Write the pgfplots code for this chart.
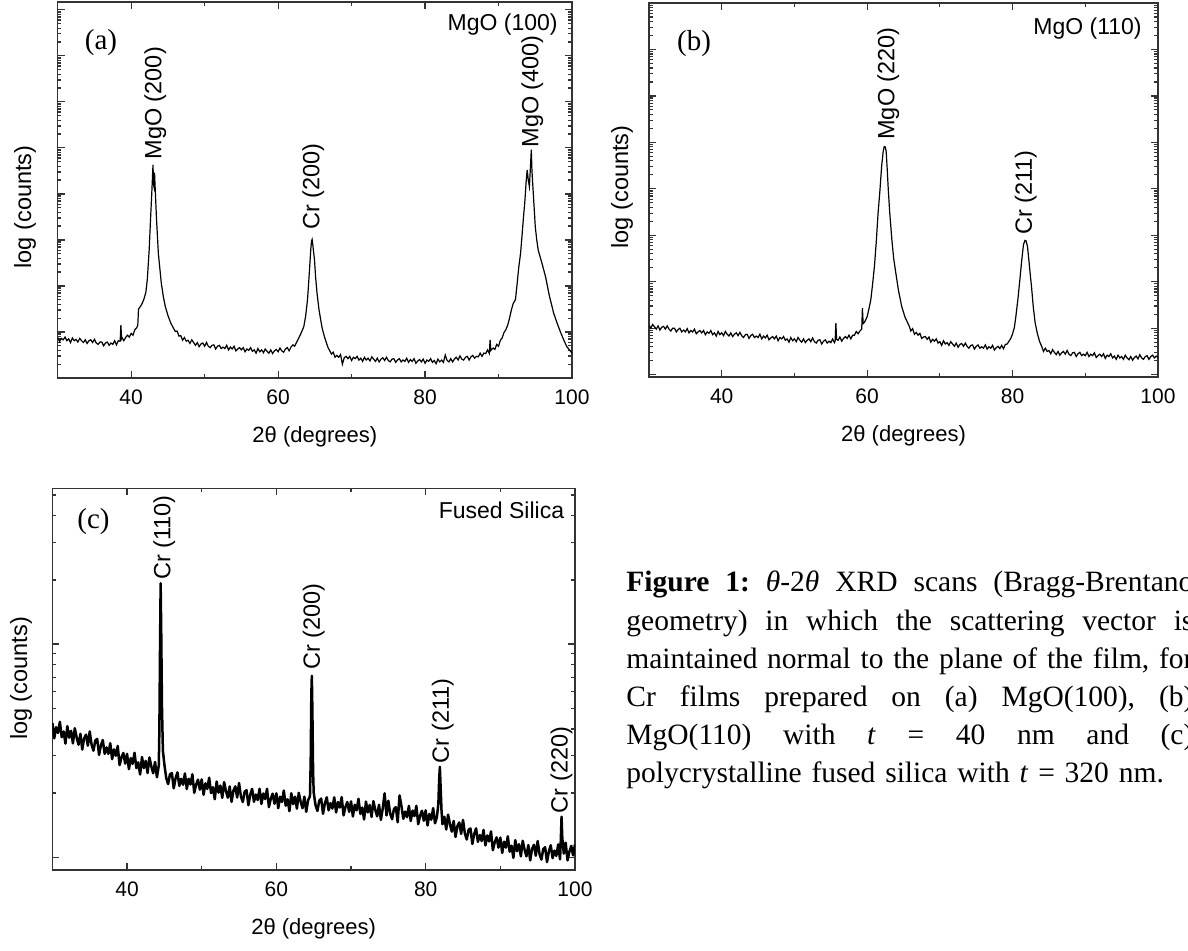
\documentclass[border=0pt]{standalone}
\usepackage{fontspec}
\setmainfont{Liberation Serif}
\setsansfont{Liberation Sans}
\usepackage{pgfplots}
\pgfplotsset{compat=1.18}

% y is log10 of counts; decades as major ticks, log minor ticks listed
\pgfplotsset{
  xrd/.style={
    scale only axis, anchor=south west,
    xmin=30, xmax=100,
    xtick={40,60,80,100}, minor xtick={50,70,90},
    yticklabels={},
    axis line style={black!80, line width=0.7pt},
    every tick/.style={black!80, line width=0.6pt},
    major tick length=3.5pt, minor tick length=1.8pt,
    /pgf/number format/assume math mode=true,
    xticklabel style={font=\sffamily\fontsize{10.5}{12}\selectfont, anchor=center, yshift=-9.5pt},
    xlabel={2θ (degrees)}, ylabel={log (counts)},
    xlabel style={font=\sffamily\fontsize{11}{13}\selectfont, at={(axis description cs:0.5,0)}, anchor=center, yshift=-29.5pt},
    ylabel style={font=\sffamily\fontsize{11.75}{14}\selectfont, anchor=center},
  },
  minor8/.style={minor ytick={
    0.301,0.477,0.602,0.699,0.778,0.845,0.903,0.954,
    1.301,1.477,1.602,1.699,1.778,1.845,1.903,1.954,
    2.301,2.477,2.602,2.699,2.778,2.845,2.903,2.954,
    3.301,3.477,3.602,3.699,3.778,3.845,3.903,3.954,
    4.301,4.477,4.602,4.699,4.778,4.845,4.903,4.954,
    5.301,5.477,5.602,5.699,5.778,5.845,5.903,5.954,
    6.301,6.477,6.602,6.699,6.778,6.845,6.903,6.954,
    7.301,7.477,7.602,7.699,7.778,7.845,7.903,7.954}},
}
\tikzset{
  pk/.style={rotate=90, anchor=west, inner sep=0pt, font=\sffamily\fontsize{11.75}{14}\selectfont},
  sub/.style={anchor=east, inner sep=0pt, font=\sffamily\fontsize{11.5}{14}\selectfont},
  tag/.style={inner sep=0pt, font=\fontsize{14.5}{17}\selectfont},
}
\newcommand\capline[1]{\leavevmode\hbox to 283.5pt{#1}}

\begin{document}
\begin{tikzpicture}
\path[use as bounding box] (0,0) rectangle (594pt,475.5pt);
\clip (0,0) rectangle (594pt,475.5pt);

% ---------- (a) MgO(100)
\begin{axis}[xrd, minor8, at={(28.85pt,286.5pt)}, width=257.15pt, height=188pt,
  ymin=0, ymax=8.17, ytick={0,...,8},
  ylabel style={at={(axis description cs:0,0.455)}, yshift=16.35pt}]
\addplot[black, line width=0.6pt] table {
30 .88
30.25 .79
30.5 .86
30.75 .83
31 .89
31.25 .81
31.5 .85
31.75 .77
32 .87
32.25 .81
32.5 .84
32.75 .78
33 .86
33.25 .81
33.5 .77
33.75 .83
34 .75
34.25 .81
34.5 .83
34.75 .77
35 .84
35.25 .76
35.5 .73
35.75 .78
36 .78
36.25 .70
36.5 .76
36.75 .78
37 .71
37.25 .76
37.5 .73
37.75 .81
38 .72
38.25 .81
38.5 .80
38.6 1.15
38.7 .86
38.75 .88
39 .81
39.25 .88
39.5 .93
39.75 .89
40 .97
40.25 .93
40.5 1.05
40.75 1.09
40.9 1.15
41 1.50
41.25 1.55
41.5 1.62
41.75 1.72
42 1.86
42.2 2.15
42.45 2.78
42.65 3.5
42.8 4.0
42.97 4.63
43.05 4.2
43.1 4.16
43.18 4.46
43.3 4.0
43.45 3.45
43.7 2.71
44.1 2.06
44.4 1.75
44.65 1.55
45 1.36
45.4 1.19
45.8 1.07
46 1.01
46.25 1.02
46.5 .91
46.75 .92
47 .82
47.25 .88
47.5 .80
47.75 .82
48 .75
48.25 .83
48.5 .77
48.75 .71
49 .77
49.25 .68
49.5 .74
49.75 .76
50 .69
50.25 .77
50.5 .69
50.75 .66
51 .71
51.25 .72
51.5 .63
51.75 .69
52 .71
52.25 .64
52.5 .67
52.75 .64
53 .71
53.25 .61
53.5 .67
53.75 .63
54 .69
54.25 .59
54.5 .63
54.75 .66
55 .61
55.25 .66
55.5 .57
55.75 .63
56 .60
56.25 .66
56.5 .58
56.75 .61
57 .54
57.25 .64
57.5 .57
57.75 .61
58 .55
58.25 .63
58.5 .58
58.75 .54
59 .61
59.25 .53
59.5 .59
59.75 .62
60 .57
60.25 .65
60.5 .59
60.75 .56
61 .63
61.25 .66
61.5 .59
61.75 .67
62 .72
62.25 .69
62.5 .77
62.75 .85
63 .93
63.25 1.02
63.5 1.12
63.75 1.35
64 1.70
64.15 2.05
64.3 2.42
64.45 2.80
64.55 2.98
64.63 3.01
64.72 2.9
64.82 2.75
64.95 2.57
65.1 2.2
65.3 1.84
65.55 1.5
65.8 1.26
66 1.08
66.3 .90
66.6 .75
66.8 .66
67 .60
67.25 .52
67.5 .56
67.75 .45
68 .49
68.25 .45
68.5 .51
68.75 .30
69 .44
69.25 .47
69.5 .42
69.75 .47
70 .38
70.25 .45
70.5 .42
70.75 .47
71 .39
71.25 .43
71.5 .36
71.75 .45
72 .39
72.25 .43
72.5 .37
72.75 .46
73 .41
73.25 .36
73.5 .43
73.75 .35
74 .41
74.25 .44
74.5 .38
74.75 .45
75 .38
75.25 .35
75.5 .41
75.75 .42
76 .34
76.25 .39
76.5 .42
76.75 .35
77 .39
77.25 .36
77.5 .43
77.75 .34
78 .40
78.25 .36
78.5 .42
78.75 .32
79 .37
79.25 .40
79.5 .35
79.75 .41
80 .32
80.25 .39
80.5 .36
80.75 .42
81 .34
81.25 .38
81.5 .31
81.75 .41
82 .35
82.25 .39
82.5 .34
82.75 .50
83 .38
83.25 .35
83.5 .42
83.75 .35
84 .41
84.25 .45
84.5 .39
84.75 .48
85 .41
85.25 .39
85.5 .45
85.75 .47
86 .39
86.25 .46
86.5 .49
86.75 .43
87 .47
87.25 .46
87.5 .54
87.75 .47
88 .54
88.25 .53
88.5 .61
88.75 .53
88.85 .83
88.95 .60
89.25 .65
89.5 .62
89.75 .73
90 .69
90.25 .82
90.5 .87
90.75 .99
91 1.05
91.25 1.15
91.5 1.3
91.75 1.48
92 1.62
92.3 1.70
92.5 2.0
92.75 2.4
93 2.71
93.2 3.1
93.4 3.5
93.6 3.87
93.75 4.25
93.9 4.52
94.05 4.3
94.2 4.16
94.35 4.6
94.46 4.96
94.55 4.5
94.7 4.09
94.85 3.7
95 3.29
95.2 3.0
95.4 2.78
95.9 2.5
96.4 2.20
96.9 1.8
97.5 1.41
98 1.18
98.5 .97
99 .78
99.3 .68
99.6 .62
100 .54
};
\node[pk] at (axis cs:43.3,4.74) {MgO (200)};
\node[pk] at (axis cs:64.8,3.22) {Cr (200)};
\node[pk] at (axis cs:94.6,5.0) {MgO (400)};
\node[sub] at (axis cs:98.1,7.67) {MgO (100)};
\node[tag] at (axis cs:35.9,7.28) {(a)};
\end{axis}

% ---------- (b) MgO(110)
\begin{axis}[xrd, minor8, at={(324.5pt,287pt)}, width=254.5pt, height=187pt,
  ymin=-0.05, ymax=8.0, ytick={0,...,8},
  ylabel style={at={(axis description cs:0,0.508)}, yshift=13.5pt}]
\addplot[black, line width=0.6pt] table {
30 1.06
30.25 1.00
30.5 1.08
30.75 1.03
31 .98
31.25 1.05
31.5 .96
31.75 1.02
32 1.04
32.25 .98
32.5 1.05
32.75 .98
33 .94
33.25 1.00
33.5 1.00
33.75 .92
34 .97
34.25 1.00
34.5 .92
34.75 .96
35 .92
35.25 .99
35.5 .90
35.75 .95
36 .92
36.25 .98
36.5 .88
36.75 .92
37 .95
37.25 .90
37.5 .95
37.75 .86
38 .92
38.25 .89
38.5 .95
38.75 .86
39 .90
39.25 .83
39.5 .93
39.75 .86
40 .90
40.25 .84
40.5 .93
40.75 .87
41 .83
41.25 .90
41.5 .82
41.75 .87
42 .90
42.25 .84
42.5 .91
42.75 .84
43 .80
43.25 .86
43.5 .87
43.75 .78
44 .84
44.25 .87
44.5 .80
44.75 .83
45 .80
45.25 .87
45.5 .77
45.75 .83
46 .79
46.25 .85
46.5 .75
46.75 .79
47 .82
47.25 .77
47.5 .83
47.75 .73
48 .80
48.25 .77
48.5 .82
48.75 .74
49 .77
49.25 .70
49.5 .80
49.75 .73
50 .77
50.25 .71
50.5 .80
50.75 .74
51 .70
51.25 .77
51.5 .69
51.75 .74
52 .77
52.25 .71
52.5 .79
52.75 .71
53 .68
53.25 .74
53.5 .75
53.75 .66
54 .72
54.25 .75
54.5 .68
54.75 .72
55 .69
55.25 .77
55.5 .69
55.6 .73
55.7 1.11
55.8 .76
56 .74
56.25 .81
56.5 .72
56.75 .78
57 .82
57.25 .78
57.5 .85
57.75 .77
58 .85
58.25 .85
58.5 .93
58.75 .88
59 .94
59.25 .98
59.35 1.43
59.45 1.10
59.6 1.12
59.8 1.18
60 1.25
60.25 1.42
60.5 1.61
60.75 1.95
61 2.33
61.25 2.85
61.5 3.47
61.75 3.95
62 4.5
62.2 4.8
62.35 4.91
62.5 4.9
62.62 4.8
62.75 4.45
62.9 4.0
63.1 3.5
63.4 2.9
63.65 2.5
63.95 2.18
64.3 1.82
64.75 1.47
65.2 1.24
65.5 1.14
65.8 1.04
66 .94
66.25 .99
66.5 .87
66.75 .91
67 .85
67.25 .89
67.5 .78
67.75 .81
68 .82
68.25 .76
68.5 .81
68.75 .70
69 .76
69.25 .72
69.5 .77
69.75 .68
70 .71
70.25 .63
70.5 .73
70.75 .66
71 .69
71.25 .63
71.5 .71
71.75 .66
72 .61
72.25 .68
72.5 .59
72.75 .65
73 .67
73.25 .61
73.5 .68
73.75 .61
74 .57
74.25 .63
74.5 .64
74.75 .55
75 .61
75.25 .64
75.5 .57
75.75 .60
76 .57
76.25 .64
76.5 .55
76.75 .60
77 .57
77.25 .63
77.5 .53
77.75 .58
78 .61
78.25 .56
78.5 .63
78.75 .56
79 .65
79.25 .66
79.5 .72
79.75 .78
80 .88
80.25 1.02
80.45 1.25
80.75 1.65
81 2.04
81.25 2.45
81.5 2.80
81.7 2.89
81.85 2.88
82.05 2.76
82.25 2.45
82.4 2.2
82.6 1.90
82.85 1.45
83.1 1.12
83.4 .89
83.7 .72
84 .61
84.25 .50
84.5 .57
84.75 .50
85 .52
85.25 .45
85.5 .54
85.75 .48
86 .43
86.25 .50
86.5 .42
86.75 .47
87 .50
87.25 .44
87.5 .52
87.75 .44
88 .41
88.25 .47
88.5 .48
88.75 .39
89 .45
89.25 .48
89.5 .41
89.75 .44
90 .41
90.25 .48
90.5 .39
90.75 .44
91 .41
91.25 .47
91.5 .37
91.75 .41
92 .44
92.25 .39
92.5 .45
92.75 .35
93 .42
93.25 .39
93.5 .45
93.75 .36
94 .40
94.25 .33
94.5 .42
94.75 .36
95 .39
95.25 .33
95.5 .42
95.75 .36
96 .32
96.25 .39
96.5 .31
96.75 .37
97 .40
97.25 .34
97.5 .43
97.75 .36
98 .33
98.25 .39
98.5 .41
98.75 .33
99 .39
99.25 .42
99.5 .36
99.75 .40
100 .37
};
\node[pk] at (axis cs:62.9,5.05) {MgO (220)};
\node[pk] at (axis cs:81.8,3.0) {Cr (211)};
\node[sub] at (axis cs:97.8,7.45) {MgO (110)};
\node[tag] at (axis cs:36.2,7.13) {(b)};
\end{axis}

% ---------- (c) fused silica
\begin{axis}[xrd, at={(26.2pt,40.5pt)}, width=261.3pt, height=190.75pt,
  ymin=-0.06, ymax=1.73, ytick={0,1},
  minor ytick={0.301,0.477,0.602,0.699,0.778,0.845,0.903,0.954,1.301,1.477,1.602,1.699},
  ylabel style={at={(axis description cs:0,0.502)}, yshift=15.7pt}]
\addplot[black, line width=1.25pt, line join=round] table {
30 .630
30.25 .558
30.5 .610
30.75 .583
31 .635
31.25 .563
31.5 .590
31.75 .533
32 .615
32.25 .561
32.5 .593
32.75 .534
33 .605
33.25 .561
33.5 .528
33.75 .579
34 .505
34.25 .558
34.5 .575
34.75 .523
35 .590
35.25 .528
35.5 .500
35.75 .548
36 .555
36.25 .480
36.5 .525
36.75 .550
37 .485
37.25 .515
37.5 .485
37.75 .535
38 .460
38.25 .506
38.5 .476
38.75 .522
39 .432
39.25 .468
39.5 .489
39.75 .439
40 .485
40.25 .413
40.5 .465
40.75 .438
41 .490
41.25 .418
41.5 .445
41.75 .388
42 .470
42.25 .418
42.5 .452
42.75 .395
43 .468
43.25 .426
43.5 .394
43.75 .447
44 .375
44.25 .430
44.33 .60
44.42 1.0
44.5 1.285
44.58 1.05
44.68 .70
44.8 .50
45 .435
45.25 .371
45.5 .343
45.75 .389
46 .395
46.25 .323
46.5 .370
46.75 .398
47 .335
47.25 .368
47.5 .340
47.75 .393
48 .320
48.25 .368
48.5 .341
48.75 .389
49 .302
49.25 .340
49.5 .364
49.75 .317
50 .365
50.25 .293
50.5 .347
50.75 .320
51 .373
51.25 .301
51.5 .329
51.75 .272
52 .355
52.25 .303
52.5 .336
52.75 .279
53 .352
53.25 .310
53.5 .279
53.75 .332
54 .260
54.25 .313
54.5 .332
54.75 .280
55 .348
55.25 .286
55.5 .259
55.75 .307
56 .315
56.25 .244
56.5 .293
56.75 .321
57 .260
57.25 .294
57.5 .268
57.75 .321
58 .250
58.25 .299
58.5 .273
58.75 .321
59 .235
59.25 .274
59.5 .298
59.75 .251
60 .300
60.25 .230
60.5 .284
60.75 .259
61 .313
61.25 .242
61.5 .272
61.75 .216
62 .300
62.25 .249
62.5 .284
62.75 .228
63 .302
63.25 .261
63.5 .230
63.75 .284
64 .213
64.25 .267
64.5 .286
64.6 .45
64.68 .76
64.75 .851
64.82 .70
64.92 .40
65 .304
65.25 .243
65.5 .217
65.75 .266
66 .275
66.25 .204
66.5 .253
66.75 .281
67 .220
67.25 .254
67.5 .228
67.75 .281
68 .210
68.25 .259
68.5 .233
68.75 .282
69 .196
69.25 .235
69.5 .259
69.75 .213
70 .262
70.25 .191
70.5 .246
70.75 .220
71 .274
71.25 .203
71.5 .233
71.75 .177
72 .261
72.25 .210
72.5 .245
72.75 .189
73 .263
73.25 .222
73.5 .192
73.75 .246
74 .175
74.25 .229
74.5 .300
74.75 .196
75 .265
75.25 .204
75.5 .178
75.75 .226
76 .235
76.25 .164
76.5 .290
76.75 .241
77 .180
77.25 .214
77.5 .188
77.75 .241
78 .170
78.25 .219
78.5 .193
78.75 .241
79 .155
79.25 .194
79.5 .218
79.75 .171
80 .220
80.25 .149
80.5 .203
80.75 .176
81 .230
81.25 .159
81.5 .188
81.7 .25
81.8 .36
81.9 .424
82 .33
82.12 .22
82.25 .155
82.5 .190
82.75 .130
83 .200
83.25 .155
83.5 .120
83.75 .170
84 .095
84.25 .146
84.5 .163
84.75 .109
85 .175
85.25 .111
85.5 .083
85.75 .129
86 .135
86.25 .062
86.5 .109
86.75 .135
87 .072
87.25 .104
87.5 .076
87.75 .128
88 .055
88.25 .102
88.5 .074
88.75 .121
89 .033
89.25 .070
89.5 .093
89.75 .045
90 .092
90.25 .020
90.5 .073
90.75 .045
91 .098
91.25 .026
91.5 .054
91.75 -.003
92 .080
92.25 .028
92.5 .061
92.75 .004
93 .077
93.25 .035
93.5 .004
93.75 .057
94 -.015
94.25 .039
94.5 .058
94.75 .007
95 .076
95.25 .015
95.5 -.011
95.75 .038
96 .047
96.25 -.023
96.5 .027
96.75 .056
97 -.004
97.25 .031
97.5 .006
97.75 .060
98 -.010
98.1 .08
98.2 .19
98.3 .09
98.5 .017
98.75 .068
99 -.015
99.25 .026
99.5 .053
99.75 .009
100 .060
};
\node[pk] at (axis cs:45.0,1.30) {Cr (110)};
\node[pk] at (axis cs:65.0,0.878) {Cr (200)};
\node[pk] at (axis cs:82.3,0.44) {Cr (211)};
\node[pk] at (axis cs:98.2,0.205) {Cr (220)};
\node[sub] at (axis cs:98.6,1.63) {Fused Silica};
\node[tag] at (axis cs:35.5,1.574) {(c)};
\end{axis}

% ---------- caption (justified lines, cut by the right edge as in the source)
\node[anchor=base west, inner sep=0pt, text width=283.5pt, align=left,
      font=\fontsize{14.75}{19.1}\selectfont] at (313pt,179.5pt) {%
\capline{\textbf{Figure}\hfill\textbf{1:}\hfill\textit{θ}-2\textit{θ}\hfill XRD\hfill scans\hfill (Bragg-Brentano}\\
\capline{geometry)\hfill in\hfill which\hfill the\hfill scattering\hfill vector\hfill is}\\
\capline{maintained\hfill normal\hfill to\hfill the\hfill plane\hfill of\hfill the\hfill film,\hfill for}\\
\capline{Cr\hfill films\hfill prepared\hfill on\hfill (a)\hfill MgO(100),\hfill (b)}\\
\capline{MgO(110)\hfill with\hfill \textit{t}\hfill =\hfill 40\hfill nm\hfill and\hfill (c)}\\
polycrystalline fused silica with \textit{t} = 320 nm.};
\end{tikzpicture}
\end{document}
